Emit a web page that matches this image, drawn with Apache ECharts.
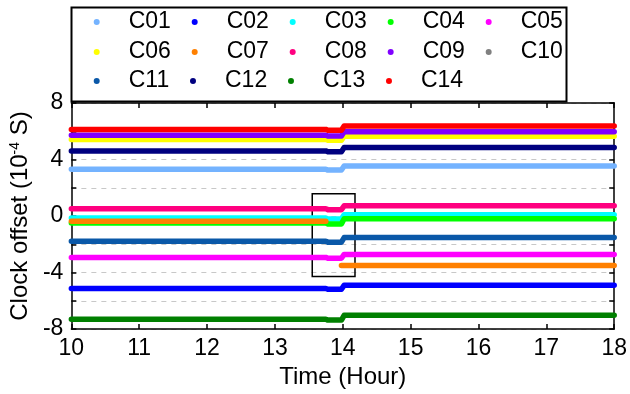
<!DOCTYPE html>
<html><head><meta charset="utf-8">
<script src="https://cdn.jsdelivr.net/npm/echarts@6/dist/echarts.min.js"></script>
<style>html,body{margin:0;padding:0;background:#fff}#c{width:630px;height:394px}</style>
</head><body><div id="c"></div>
<script>
// Time points (hours)
var T = [10, 13.75, 13.78, 13.98, 14.02, 18];
var names = ['C01','C02','C03','C04','C05','C06','C07','C08','C09','C10','C11','C12','C13','C14'];
var colors = ['#74b3ff','#0000ff','#00ffff','#00ff00','#ff00ff','#ffff00','#ff8000','#ff0080','#8000ff','#808080','#0a58a8','#000080','#008000','#ff0000'];
// Clock offsets (1e-4 s) at the time points above
var C01 = [3.31, 3.31, 3.25, 3.25, 3.54, 3.54];
var C02 = [-5.13, -5.13, -5.19, -5.19, -4.9, -4.9];
var C03 = [-0.15, -0.15, -0.21, -0.21, 0.08, 0.08];
var C04 = [-0.5, -0.5, -0.56, -0.56, -0.2, -0.2];
var C05 = [-2.93, -2.93, -2.99, -2.99, -2.72, -2.72];
var C06 = [5.42, 5.42, 5.36, 5.36, 5.65, 5.65];
var C07 = [-0.37, -0.37, null, -3.5, -3.5, -3.5];
var C08 = [0.51, 0.51, 0.45, 0.45, 0.72, 0.72];
var C09 = [5.72, 5.72, 5.66, 5.66, 5.96, 5.96];
var C10 = [null, null, null, null, null, null];
var C11 = [-1.79, -1.79, -1.85, -1.85, -1.53, -1.53];
var C12 = [4.61, 4.61, 4.55, 4.55, 4.85, 4.85];
var C13 = [-7.31, -7.31, -7.37, -7.37, -7.03, -7.03];
var C14 = [6.13, 6.13, 6.07, 6.07, 6.37, 6.37];
var values = [C01,C02,C03,C04,C05,C06,C07,C08,C09,C10,C11,C12,C13,C14];
// Legend rows
var legendRows = [names.slice(0,5), names.slice(5,10), names.slice(10,14)];
// Highlight box (hours, 1e-4 s)
var boxX = [13.55, 14.18];
var boxY = [1.58, -4.28];

var FONT = 'Liberation Sans, Arial, sans-serif';
var series = names.map(function(n, i){
  return {
    name: n, type: 'line', showSymbol: false, symbol: 'circle',
    connectNulls: false, animation: false,
    data: T.map(function(t, k){ return [t, values[i][k]]; }),
    lineStyle: { width: 5.5, color: colors[i], cap: 'round', join: 'round' },
    itemStyle: { color: colors[i] }
  };
});
series[13].markArea = {
  silent: true,
  itemStyle: { color: 'rgba(0,0,0,0)', borderColor: '#000', borderWidth: 1.5 },
  data: [[{ coord: [boxX[0], boxY[0]] }, { coord: [boxX[1], boxY[1]] }]]
};

var legendTops = [10, 40, 69];
var legends = legendRows.map(function(row, r){
  return {
    left: 93.7, top: legendTops[r], padding: 0,
    itemWidth: 6, itemHeight: 6, itemGap: 20.8,
    icon: 'circle',
    textStyle: { fontSize: 23, color: '#000', fontFamily: FONT, lineHeight: 24, padding: [0, 0, 0, 24] },
    data: row
  };
});

var axisBase = {
  axisLine: { onZero: false, lineStyle: { color: '#000', width: 1.5 } },
  axisTick: { inside: true, length: 5, lineStyle: { color: '#000', width: 1.5 } }
};

var chart = echarts.init(document.getElementById('c'));
chart.setOption({
  backgroundColor: '#fff',
  textStyle: { fontFamily: FONT },
  legend: legends,
  graphic: [{
    type: 'rect', left: 69, top: 5, silent: true,
    shape: { width: 495, height: 94 },
    style: { fill: 'none', stroke: '#000', lineWidth: 2 }
  }],
  grid: { left: 64, right: 15, top: 103, bottom: 65 },
  xAxis: [Object.assign({
    type: 'value', min: 10, max: 18, interval: 1, position: 'bottom',
    name: 'Time (Hour)', nameLocation: 'middle', nameGap: 32,
    nameTextStyle: { fontSize: 24, color: '#000', fontFamily: FONT },
    axisLabel: { fontSize: 23, color: '#000', margin: 8, fontFamily: FONT },
    splitLine: { show: false }
  }, axisBase), Object.assign({
    type: 'value', min: 10, max: 18, interval: 1, position: 'top',
    axisLabel: { show: false }, splitLine: { show: false }
  }, axisBase)],
  yAxis: [Object.assign({
    type: 'value', min: -8, max: 8, interval: 2, position: 'left',
    name: 'Clock offset (10{sup|-4} S)', nameLocation: 'middle', nameGap: 34,
    nameTextStyle: { fontSize: 24, color: '#000', fontFamily: FONT,
      rich: { sup: { fontSize: 14, color: '#000', fontFamily: FONT, padding: [0, 0, 10, 0] } } },
    axisLabel: { fontSize: 23, color: '#000', margin: 8, fontFamily: FONT,
      formatter: function(v){ return (v % 4 === 0) ? String(v) : ''; } },
    splitLine: { show: true, lineStyle: { color: '#c8c8c8', type: [5, 5], width: 1 } }
  }, axisBase), Object.assign({
    type: 'value', min: -8, max: 8, interval: 2, position: 'right',
    axisLabel: { show: false }, splitLine: { show: false }
  }, axisBase)],
  series: series
});
</script></body></html>
